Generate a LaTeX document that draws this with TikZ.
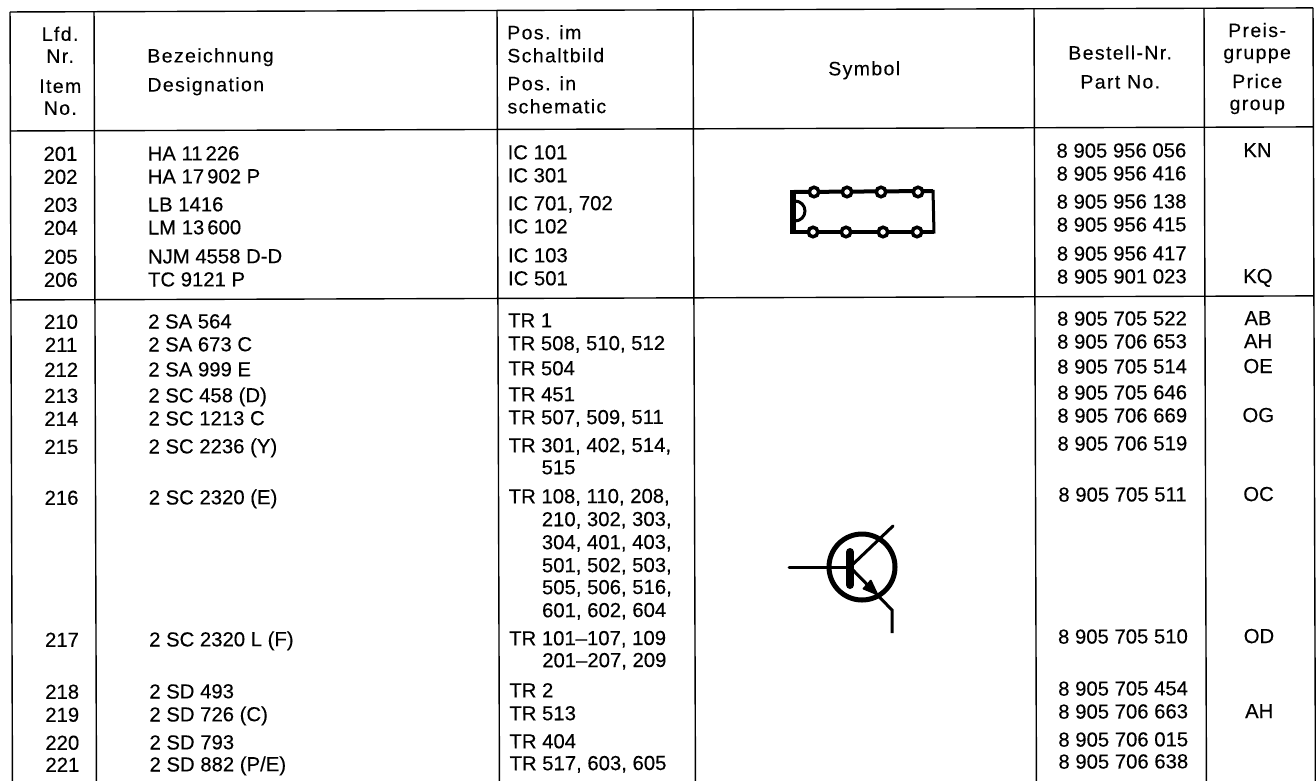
\documentclass[tikz,border=0pt]{standalone}
\usepackage{fontspec}
\setmainfont[FakeBold=0.25]{Liberation Sans}
\newfontfamily\hdrfont[LetterSpace=7,FakeBold=0.15]{Liberation Sans}
\newcommand{\ts}{\kern3pt\relax}
\tikzset{x=1pt,y=-1pt,
 rule/.style={line width=1.4pt,black},
 head/.style={inner sep=0pt,font=\fontsize{19.5}{22}\hdrfont,anchor=base west},
 headc/.style={head,anchor=base},
 body/.style={inner sep=0pt,font=\fontsize{20.3}{22}\selectfont,anchor=base west},
 bodyc/.style={body,anchor=base},
 sym/.style={black,line width=5pt},
 lead/.style={black,line width=3pt,line cap=round}}
% y, item, designation, position, part no., price group
\newcommand{\trow}[6]{%
 \node[bodyc] (no#2) at (60,#1) {#2};
 \node[body] (de#2) at (147,#1) {#3};
 \node[body] (po#2) at (507,#1) {#4};
 \node[bodyc] (pa#2) at (1121,#1) {#5};
 \node[bodyc] (pr#2) at (1257,#1) {#6};}
\newcommand{\contline}[3]{\node[body] (#1) at (540,#2) {#3};}
\begin{document}
\begin{tikzpicture}
\useasboundingbox (0,0) rectangle (1316,780);
\fill[white] (0,0) rectangle (1316,780);
\begin{scope}[rotate=0.18,transform shape]
\foreach \x in {10,94,497,693,1034,1204,1313}{\draw[rule] (\x,12) -- (\x,790);}
\foreach \y in {12,131,300}{\draw[rule] (10,\y) -- (1313,\y);}
\node[headc] (h1) at (60,41) {Lfd.};
\node[headc] (h2) at (60,63) {Nr.};
\node[headc] (h3) at (60,93) {Item};
\node[headc] (h4) at (60,115) {No.};
\node[head] (h5) at (147,63) {Bezeichnung};
\node[head] (h6) at (147,92) {Designation};
\node[head] (h7) at (507,41) {Pos. im};
\node[head] (h8) at (507,64) {Schaltbild};
\node[head] (h9) at (507,92) {Pos. in};
\node[head] (h10) at (507,115) {schematic};
\node[headc] (h11) at (864,78) {Symbol};
\node[headc] (h12) at (1120,63) {Bestell-Nr.};
\node[headc] (h13) at (1120,92) {Part No.};
\node[headc] (h14) at (1257,41) {Preis-};
\node[headc] (h15) at (1257,63) {gruppe};
\node[headc] (h16) at (1257,92) {Price};
\node[headc] (h17) at (1257,114) {group};
\trow{161}{201}{HA 11\ts 226}{IC 101}{8 905 956 056}{KN}
\trow{184}{202}{HA 17\ts 902 P}{IC 301}{8 905 956 416}{}
\trow{212}{203}{LB 1416}{IC 701, 702}{8 905 956 138}{}
\trow{235}{204}{LM 13\ts 600}{IC 102}{8 905 956 415}{}
\trow{264}{205}{NJM 4558 D-D}{IC 103}{8 905 956 417}{}
\trow{287}{206}{TC 9121 P}{IC 501}{8 905 901 023}{KQ}
\trow{329}{210}{2 SA 564}{TR 1}{8 905 705 522}{AB}
\trow{352}{211}{2 SA 673 C}{TR 508, 510, 512}{8 905 706 653}{AH}
\trow{377}{212}{2 SA 999 E}{TR 504}{8 905 705 514}{OE}
\trow{403}{213}{2 SC 458 (D)}{TR 451}{8 905 705 646}{}
\trow{426}{214}{2 SC 1213 C}{TR 507, 509, 511}{8 905 706 669}{OG}
\trow{454}{215}{2 SC 2236 (Y)}{TR 301, 402, 514,}{8 905 706 519}{}
\contline{c1}{476}{515}
\trow{505}{216}{2 SC 2320 (E)}{TR 108, 110, 208,}{8 905 705 511}{OC}
\contline{c2}{528}{210, 302, 303,}
\contline{c3}{551}{304, 401, 403,}
\contline{c4}{574}{501, 502, 503,}
\contline{c5}{596}{505, 506, 516,}
\contline{c6}{619}{601, 602, 604}
\trow{647}{217}{2 SC 2320 L (F)}{TR 101--107, 109}{8 905 705 510}{OD}
\contline{c7}{669}{201--207, 209}
\trow{699}{218}{2 SD 493}{TR 2}{8 905 705 454}{}
\trow{722}{219}{2 SD 726 (C)}{TR 513}{8 905 706 663}{AH}
\trow{750}{220}{2 SD 793}{TR 404}{8 905 706 015}{}
\trow{772}{221}{2 SD 882 (P/E)}{TR 517, 603, 605}{8 905 706 638}{}
\end{scope}
% IC symbol
\draw[black,line width=4pt,line join=round] (793,192) -- (933,191);
\draw[black,line width=3.5pt,line join=round] (793,232) -- (934,232);
\draw[black,line width=3pt] (933,190) -- (934,233.5);
\draw[black,line width=5.5pt] (793,190) -- (793,234);
\draw[black,line width=3pt] (795,201) arc[start angle=-90,end angle=90,radius=10];
\foreach \i/\x/\y in {a/814/192,b/847/192,c/881/192,d/918/192,e/813/232,f/846/232,g/883/232,h/917/232}{
 \node[circle,draw=black,fill=white,line width=3.5pt,minimum size=9.5pt,inner sep=0pt] (ic\i) at (\x,\y) {};}
% transistor symbol
\coordinate (base) at (789,567);
\coordinate (bar) at (850,567);
\coordinate (coll) at (893,526);
\coordinate (emit) at (892,610);
\coordinate (leadend) at (892,633);
\draw[sym] (862,567) circle[radius=33];
\draw[lead] (base) -- (bar);
\draw[black,line width=8pt,line cap=round] (850,552) -- (850,585);
\draw[lead] (bar) -- (coll);
\draw[lead,line cap=butt] (bar) -- (emit) -- (leadend);
\fill[black,rounded corners=1pt] (879,596) -- (862,589) -- (871,579) -- cycle;
\end{tikzpicture}
\end{document}
